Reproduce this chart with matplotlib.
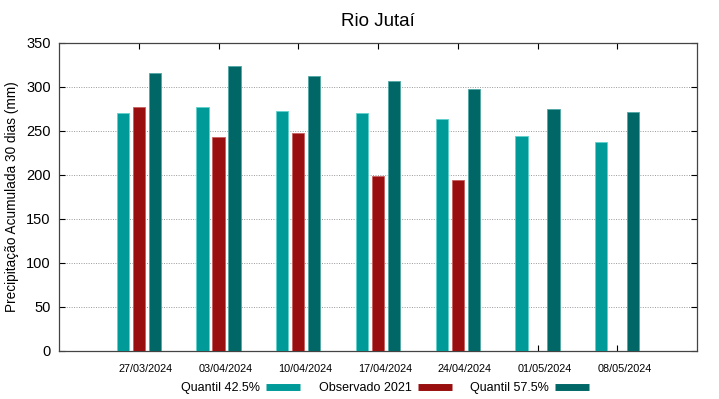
import matplotlib.pyplot as plt
from matplotlib.lines import Line2D
import numpy as np

plt.rcParams['font.family'] = ['Liberation Sans', 'DejaVu Sans']

datas = ['27/03/2024', '03/04/2024', '10/04/2024', '17/04/2024',
         '24/04/2024', '01/05/2024', '08/05/2024']
q425 = [271, 277, 273, 271, 264, 244, 238]
obs2021 = [277, 243, 248, 199, 194, np.nan, np.nan]
q575 = [316, 324, 313, 307, 298, 275, 272]

c_q425 = '#009a99'
c_obs = '#990f0f'
c_q575 = '#006766'

fig = plt.figure(figsize=(7.19, 3.99), dpi=100)
ax = fig.add_axes([59 / 719, 1 - 351 / 399, 638 / 719, 308 / 399])

x = np.arange(1, len(datas) + 1)
w = 0.155
ax.bar(x - 0.2, q425, w, color=c_q425, edgecolor='#5fd0cc', linewidth=0.6, zorder=3)
ax.bar(x, obs2021, w, color=c_obs, edgecolor='#c86060', linewidth=0.6, zorder=3)
ax.bar(x + 0.2, q575, w, color=c_q575, edgecolor='#4fa8a4', linewidth=0.6, zorder=3)

ax.set_xlim(0, 8)
ax.set_ylim(0, 350)
# ticks on the groups, date labels sit a bit to the right (like gnuplot)
ax.set_xticks(x)
ax.set_xticklabels([])
ax.set_xticks(x + 0.09, minor=True)
ax.set_xticklabels(datas, minor=True, fontsize=7.8)
ax.tick_params(axis='x', which='major', direction='in', top=True, length=4)
ax.tick_params(axis='x', which='minor', length=0, pad=9)
ax.set_yticks(range(0, 351, 50))
ax.tick_params(axis='y', labelsize=10.5, direction='in', right=True, length=4, pad=6)
ax.grid(axis='y', linestyle=(0, (1, 1.5)), color='#999999', linewidth=0.7, zorder=0)
for s in ax.spines.values():
    s.set_color('#444444')
    s.set_linewidth(0.9)

ax.set_ylabel('Precipitação Acumulada 30 dias (mm)', fontsize=9.8, labelpad=5)
ax.set_title('Rio Jutaí', fontsize=13.5, pad=12)

handles = [Line2D([], [], color=c, linewidth=5, solid_capstyle='butt')
           for c in (c_q425, c_obs, c_q575)]
fig.legend(handles, ['Quantil 42.5%', 'Observado 2021', 'Quantil 57.5%'],
           loc='center', bbox_to_anchor=(385 / 719, 1 - 388 / 399), ncol=3,
           frameon=False, markerfirst=False, fontsize=9, handlelength=2.7,
           columnspacing=1.5, handletextpad=0.5)

fig.savefig('out.png', dpi=100)
